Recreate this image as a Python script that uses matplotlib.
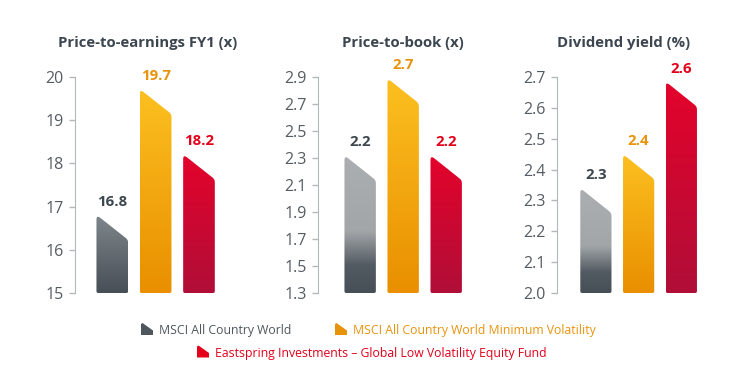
import numpy as np
import matplotlib
matplotlib.use('Agg')
import matplotlib.pyplot as plt
from matplotlib.patches import Polygon
from matplotlib.colors import LinearSegmentedColormap
from matplotlib.transforms import IdentityTransform

plt.rcParams['font.family'] = ['Open Sans', 'DejaVu Sans']

titles = ['Price-to-earnings FY1 (x)', 'Price-to-book (x)', 'Dividend yield (%)']
series = ['MSCI All Country World',
          'MSCI All Country World Minimum Volatility',
          'Eastspring Investments \u2013 Global Low Volatility Equity Fund']

# values printed above the bars
pe_values = [16.8, 19.7, 18.2]
pb_values = [2.2, 2.7, 2.2]
dy_values = [2.3, 2.4, 2.6]
# bar heights as drawn (left peak of each bar)
pe_bars = [16.81, 19.72, 18.21]
pb_bars = [2.32, 2.89, 2.32]
dy_bars = [2.34, 2.45, 2.685]

pe_ticks = [15, 16, 17, 18, 19, 20]
pb_ticks = [1.3, 1.5, 1.7, 1.9, 2.1, 2.3, 2.5, 2.7, 2.9]
dy_ticks = [2.0, 2.1, 2.2, 2.3, 2.4, 2.5, 2.6, 2.7]

W, H = 740, 392
label_colors = ['#3d4750', '#e8930c', '#e2001a']
legend_colors = ['#4f565c', '#e8930c', '#e2001a']
gray_short = [(0, '#474f56'), (1, '#80878c')]
gray_tall = [(0, '#474f56'), (0.2, '#535b62'), (0.45, '#a2a6a9'), (1, '#abafb2')]
orange = [(0, '#e98f00'), (1, '#fcc020')]
red = [(0, '#b00e38'), (1, '#e4032b')]


def round_poly(verts, radii, n=8):
    out = []
    k = len(verts)
    for i in range(k):
        p = np.array(verts[i], float)
        a = np.array(verts[i - 1], float)
        b = np.array(verts[(i + 1) % k], float)
        r = radii[i]
        ua = (a - p) / np.linalg.norm(a - p)
        ub = (b - p) / np.linalg.norm(b - p)
        p0 = p + r * ua
        p1 = p + r * ub
        for t in np.linspace(0, 1, n):
            out.append((1 - t) ** 2 * p0 + 2 * t * (1 - t) * p + t ** 2 * p1)
    return np.array(out)


def slanted_bar(ax, x, h, y0, width, stops, drop_px=25):
    tr = ax.transData
    xl, yb = tr.transform((x - width / 2, y0))
    xr, yt = tr.transform((x + width / 2, h))
    verts = [(xl, yb), (xr, yb), (xr, yt - drop_px), (xl, yt)]
    pts = round_poly(verts, [2, 2, 3, 5])
    data_pts = tr.inverted().transform(pts)
    patch = Polygon(data_pts, closed=True, facecolor='none', edgecolor='none')
    ax.add_patch(patch)
    cmap = LinearSegmentedColormap.from_list('g', stops)
    im = ax.imshow(np.linspace(0, 1, 256).reshape(-1, 1), cmap=cmap,
                   extent=(x - width / 2, x + width / 2, y0, h),
                   origin='lower', aspect='auto', interpolation='bilinear')
    im.set_clip_path(patch)


fig = plt.figure(figsize=(W / 100, H / 100), dpi=100)

panels = [
    # left px, width px, xlim left, bars, values, ticks, fmt, gray stops, title centre
    (75, 150, -0.86, pe_bars, pe_values, pe_ticks, '{:.0f}', gray_short, 147.7),
    (318, 154, -0.98, pb_bars, pb_values, pb_ticks, '{:.1f}', gray_tall, 403.3),
    (557, 150, -0.91, dy_bars, dy_values, dy_ticks, '{:.1f}', gray_tall, 623.3),
]

for i, (left, wpx, x0, bars, vals, ticks, fmt, gstops, tcx) in enumerate(panels):
    ax = fig.add_axes([left / W, (H - 293) / H, wpx / W, 216 / H])
    ax.set_xlim(x0, 2.6)
    ax.set_ylim(ticks[0], ticks[-1])
    xs = np.arange(3)
    for x, h, stops in zip(xs, bars, [gstops, orange, red]):
        slanted_bar(ax, x, h, ticks[0], 0.73, stops)
    for x, h, v, c in zip(xs, bars, vals, label_colors):
        ax.annotate('{:.1f}'.format(v), (x, h),
                    xytext=(0, 13), textcoords='offset pixels',
                    ha='center', va='center', fontsize=10.8,
                    fontweight='bold', color=c)
    ax.set_xlim(x0, 2.6)
    ax.set_ylim(ticks[0], ticks[-1])
    ax.set_yticks(ticks)
    ax.set_yticklabels([fmt.format(t) for t in ticks])
    ax.set_xticks([])
    for s in ['top', 'right', 'bottom']:
        ax.spines[s].set_visible(False)
    ax.spines['left'].set_color('#b5b8bb')
    ax.tick_params(axis='y', direction='out', length=4, width=1,
                   color='#b5b8bb', labelcolor='#555c63', labelsize=11.5, pad=4)
    ax.patch.set_alpha(0)
    fig.text(tcx / W, 1 - 43 / H, titles[i], ha='center', va='center',
             fontsize=10.7, fontweight='bold', color='#3c4650')

# legend
legend_pos = [(141, 329, 159, 330.7), (335, 329, 353, 330.7), (197, 351.5, 215, 353.3)]
for (ix, iy, tx, ty), name, c in zip(legend_pos, series, legend_colors):
    by = H - iy - 6
    icon = [(ix, by), (ix + 12, by), (ix + 12, by + 4.5), (ix + 1.5, by + 12), (ix, by + 11)]
    fig.patches.append(Polygon(icon, closed=True, facecolor=c, edgecolor='none',
                               transform=IdentityTransform(), figure=fig))
    fig.text(tx / W, 1 - ty / H, name, ha='left', va='center', fontsize=8.8, color=c)

fig.savefig('out.png', dpi=100)
